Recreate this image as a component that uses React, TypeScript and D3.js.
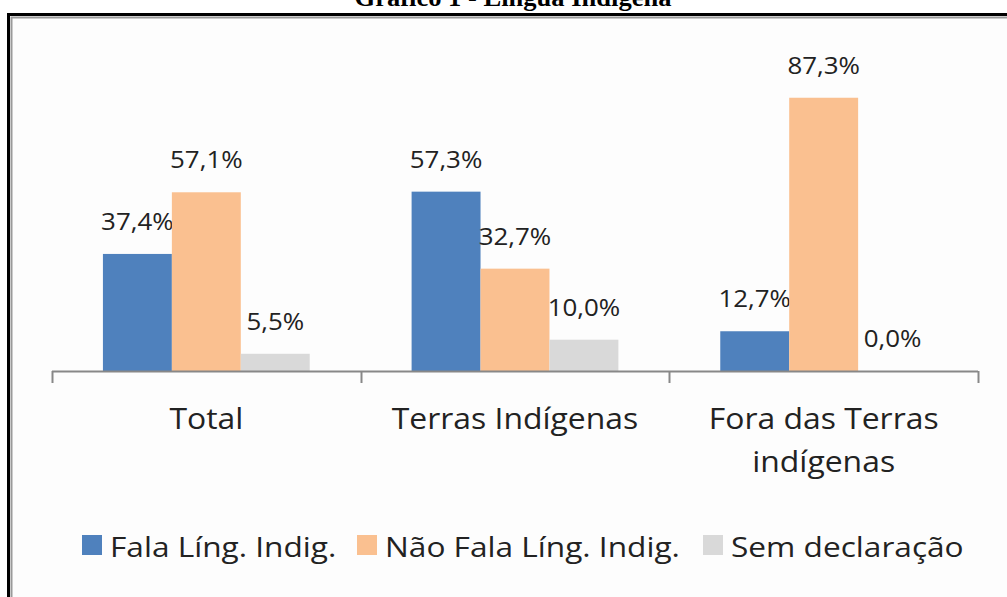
import React from "react";
import * as d3 from "d3";

const categories = ["Total", "Terras Indígenas", "Fora das Terras indígenas"];
const categoryLines = [["Total"], ["Terras Indígenas"], ["Fora das Terras", "indígenas"]];
const seriesNames = ["Fala Líng. Indig.", "Não Fala Líng. Indig.", "Sem declaração"];
const seriesColors = ["#4f81bd", "#fac090", "#d9d9d9"];
const falaValues = [37.4, 57.3, 12.7];
const naoFalaValues = [57.1, 32.7, 87.3];
const semDeclValues = [5.5, 10.0, 0.0];
const seriesValues = [falaValues, naoFalaValues, semDeclValues];
const title = "Gráfico 1 - Língua Indígena";

const W = 1007;
const H = 597;
const FONT = "'Open Sans', 'Noto Sans', sans-serif";

export default function App() {
  const x0 = d3.scaleBand<string>().domain(categories).range([52, 978]).paddingInner(0).paddingOuter(0);
  const bw = x0.bandwidth();
  const gp = bw * 0.165;
  const x1 = d3.scaleBand<string>().domain(seriesNames).range([gp, bw - gp]).padding(0);
  const y = d3.scaleLinear().domain([0, 100]).range([371, 58]);
  const fmt = (v: number) => v.toFixed(1).replace(".", ",") + "%";

  const legendX = [82, 357, 703];

  return (
    <svg width={W} height={H} style={{ position: "absolute", left: 0, top: 0, background: "#fff" }}>
      <rect x={0} y={0} width={W} height={H} fill="#fff" />
      <text x={513} y={6} textAnchor="middle" fontFamily="'Liberation Serif', 'Times New Roman', serif" fontWeight="bold" fontSize={25} fill="#000" textLength={317} lengthAdjust="spacingAndGlyphs">
        {title}
      </text>
      {/* frame */}
      <rect x={8.5} y={14.5} width={W + 20} height={H + 20} fill="#fdfdfd" stroke="#000" strokeWidth={3} />
      <rect x={11.5} y={17.5} width={W + 20} height={H + 20} fill="none" stroke="#9a9a9a" strokeWidth={2} />

      {/* bars */}
      {categories.map((c, ci) => (
        <g key={c} transform={`translate(${x0(c)},0)`}>
          {seriesNames.map((s, si) => {
            const v = seriesValues[si][ci];
            const bx = x1(s)!;
            return (
              <g key={s}>
                <rect x={bx} y={y(v)} width={x1.bandwidth()} height={y(0) - y(v)} fill={seriesColors[si]} />
                <g transform={`translate(${bx + x1.bandwidth() / 2},${y(v) - 24}) scale(1.08,1)`}>
                  <text x={0} y={0} textAnchor="middle" fontFamily={FONT} fontSize={24} fill="#222">
                    {fmt(v)}
                  </text>
                </g>
              </g>
            );
          })}
        </g>
      ))}

      {/* axis */}
      <line x1={52} x2={978} y1={371.5} y2={371.5} stroke="#888" strokeWidth={2} />
      {[...categories.map((c) => x0(c)!), 978].map((t, i) => (
        <line key={i} x1={Math.round(t) + 0.5} x2={Math.round(t) + 0.5} y1={371} y2={383} stroke="#888" strokeWidth={2} />
      ))}
      {categories.map((c, ci) =>
        categoryLines[ci].map((l, li) => (
          <g key={c + li} transform={`translate(${x0(c)! + bw / 2},${429 + li * 43}) scale(1.1,1)`}>
            <text x={0} y={0} textAnchor="middle" fontFamily={FONT} fontSize={29} fill="#222">
              {l}
            </text>
          </g>
        ))
      )}

      {/* legend */}
      {seriesNames.map((s, si) => (
        <g key={s}>
          <rect x={legendX[si]} y={535} width={20} height={20} fill={seriesColors[si]} />
          <g transform={`translate(${legendX[si] + 28},557) scale(1.13,1)`}>
            <text x={0} y={0} fontFamily={FONT} fontSize={28} fill="#222">
              {s}
            </text>
          </g>
        </g>
      ))}
    </svg>
  );
}
